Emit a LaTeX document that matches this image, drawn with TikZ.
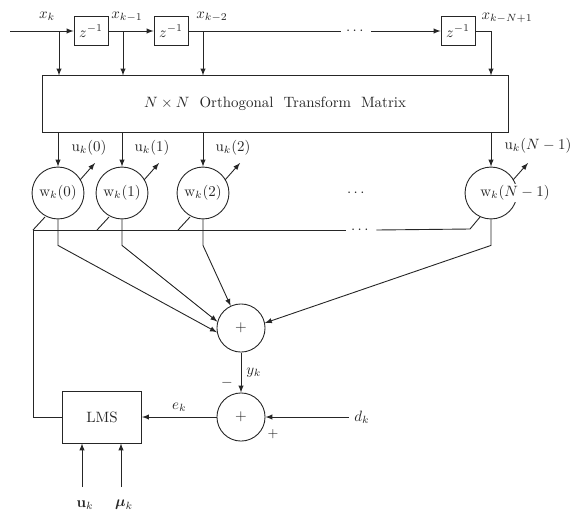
\documentclass[tikz,border=0pt]{standalone}
\usepackage{tikz}
\usepackage{amsmath,bm}
\usetikzlibrary{calc,arrows}

\tikzset{
	delaybox/.style={draw, minimum width=0.8cm, minimum height=0.7cm, inner sep=1pt},
	weight/.style={draw, circle, minimum size=1.22cm, inner sep=0pt},
	adder/.style={draw, circle, minimum size=1.13cm, inner sep=0pt},
	lmsbox/.style={draw, minimum width=1.86cm, minimum height=1.22cm},
}

\begin{document}
\begin{tikzpicture}[x=0.0235cm, y=-0.0235cm, >=latex, line width=0.6pt, color=black!85]
			%%%%% START %%%%%
			\useasboundingbox (0,0) rectangle (576,513);
			
			% delay line
			\coordinate (in) at (10,31);
			\node[delaybox] (z1) at (91,31) {$z^{-1}$};
			\node[delaybox] (z2) at (171,31) {$z^{-1}$};
			\node[delaybox] (z3) at (458,31) {$z^{-1}$};
			\node (topdots) at (356,31) {$\cdots$};
			
			\coordinate (t0) at (59,31);
			\coordinate (t1) at (123,31);
			\coordinate (t2) at (203,31);
			\coordinate (tN) at (491,31);
			
			\node at (47,16) {$x_k$};
			\node at (127,17) {$x_{k-1}$};
			\node at (212,17) {$x_{k-2}$};
			\node at (507,18) {$x_{k-N+1}$};
			
			\draw[->] (in) -- (z1);
			\draw[->] (z1) -- (z2);
			\draw (z2.east) -- (topdots.west);
			\draw[->] (topdots.east) -- (z3);
			
			% transform
			\node[draw, minimum width=10.95cm, minimum height=1.32cm] (T) at (275,104)
				{$N \times N$\ \ Orthogonal\ \ Transform\ \ Matrix};
			
			\draw[->] (t0) -- (t0 |- T.north);
			\draw[->] (t1) -- (t1 |- T.north);
			\draw[->] (t2) -- (t2 |- T.north);
			\draw[->] (z3.east) -| (T.north -| tN);
			
			% weights
			\node[weight] (w0) at (58,193) {$\mathrm{w}_k(0)$};
			\node[weight] (w1) at (122,193) {$\mathrm{w}_k(1)$};
			\node[weight] (w2) at (203,193) {$\mathrm{w}_k(2)$};
			\node[weight] (wN) at (491,193) {};
			\node[fill=white, inner sep=1pt] at (515,193) {$\mathrm{w}_k(N-1)$};
			\node at (357,193) {$\cdots$};
			
			\draw[->] (T.south -| w0) -- (w0);
			\draw[->] (T.south -| w1) -- (w1);
			\draw[->] (T.south -| w2) -- (w2);
			\draw[->] (T.south -| wN) -- (wN);
			
			\node at (89,148) {$\mathrm{u}_k(0)$};
			\node at (152,148) {$\mathrm{u}_k(1)$};
			\node at (233,148) {$\mathrm{u}_k(2)$};
			\node at (538,146) {$\mathrm{u}_k(N-1)$};
			
			\draw[->] ($(w0)+(22,-13)$) -- ++(15,-17);
			\draw[->] ($(w1)+(22,-13)$) -- ++(15,-17);
			\draw[->] ($(w2)+(22,-13)$) -- ++(15,-17);
			\draw[->] ($(wN)+(22,-13)$) -- ++(15,-17);
			
			% sums and LMS
			\node[adder] (s1) at (241,328) {$+$};
			\node[adder] (s2) at (241,417) {$+$};
			\node[lmsbox] (lms) at (102,417) {LMS};
			\node (dk) at (362,417) {$d_k$};
			
			\draw[->] (w0.south) -- ++(0,26) -- (s1.190);
			\draw[->] (w1.south) -- ++(0,26) -- (s1.165);
			\draw[->] (w2.south) -- ++(0,26) -- (s1.115);
			\draw[->] (wN.south) -- ++(0,26) -- (s1.12);
			
			\draw[->] (s1) -- node[right] {$y_k$} (s2);
			\node at (227,383) {$-$};
			\node at (273,434) {\small $+$};
			\draw[->] (dk.west) -- (s2);
			\draw[->] (s2) -- node[above] {$e_k$} (lms);
			
			% feedback bus
			\coordinate (bus) at (33,230);
			\node (busdots) at (361,230) {$\cdots$};
			\draw (lms.west) -| (bus) -- (busdots.west);
			\draw (busdots.east) -- ($(wN)+(-21,36)$) -- ($(wN)+(-11,24)$);
			\draw (bus) -- ($(w0)+(-13,24)$);
			\draw ($(w1)+(-25,37)$) -- ($(w1)+(-13,24)$);
			\draw ($(w2)+(-25,37)$) -- ($(w2)+(-13,24)$);
			
			% LMS inputs
			\coordinate (uin) at (82,487);
			\coordinate (muin) at (121,487);
			\draw[->] (uin) -- (uin |- lms.south);
			\draw[->] (muin) -- (muin |- lms.south);
			\node at (85,505) {$\mathbf{u}_k$};
			\node at (124,505) {$\bm{\mu}_k$};
			
			%%%%% END %%%%%
\end{tikzpicture}
\end{document}
